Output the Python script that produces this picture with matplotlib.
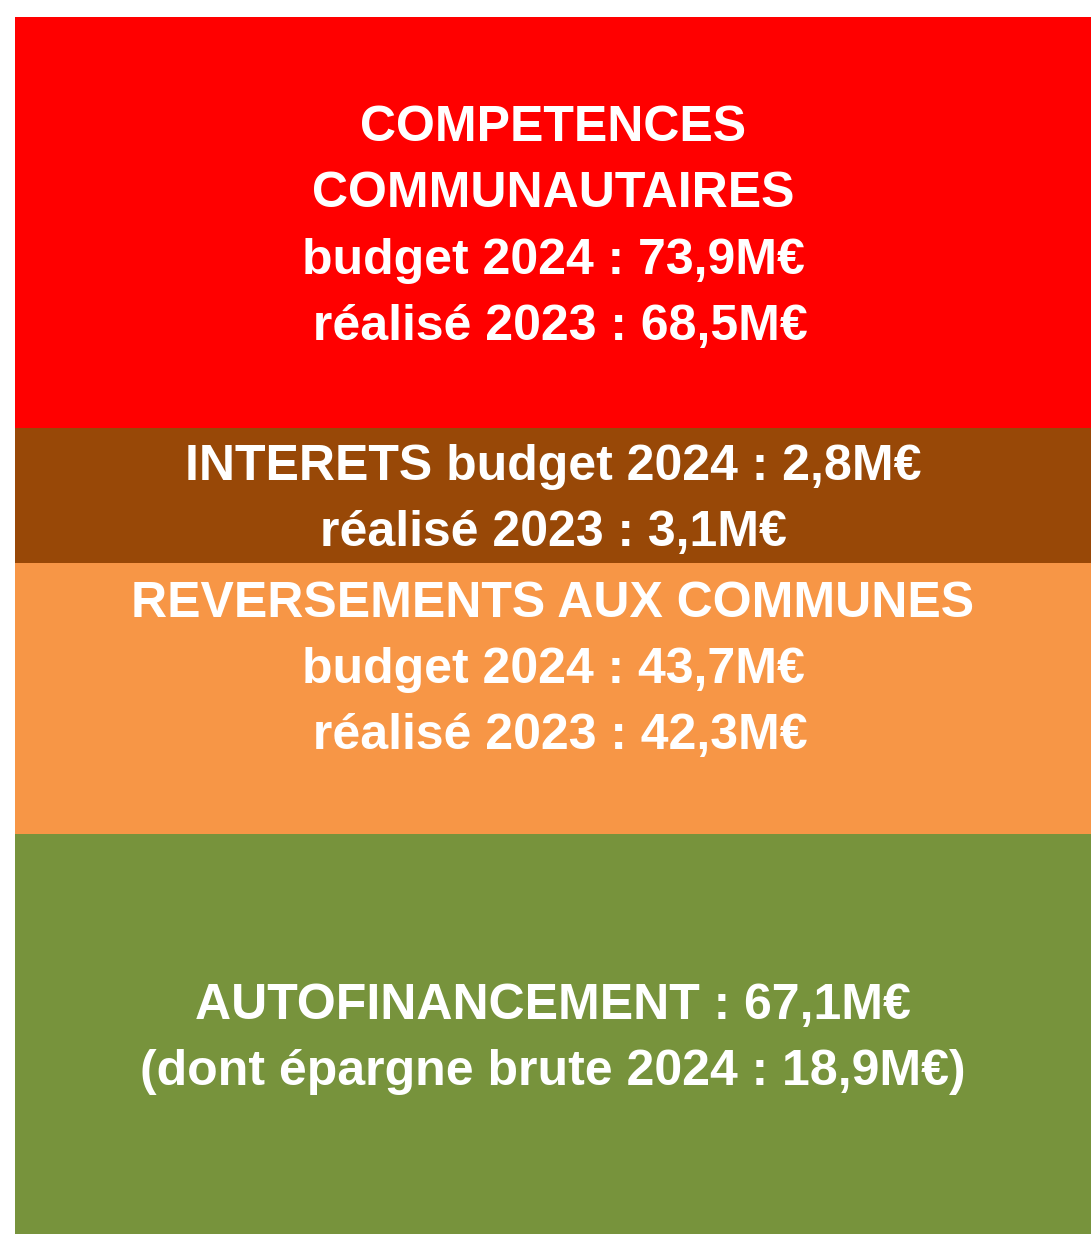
import matplotlib.pyplot as plt

# segments from bottom to top (heights, red = 73.9)
labels = [
    "AUTOFINANCEMENT : 67,1M€\n(dont épargne brute 2024 : 18,9M€)",
    "REVERSEMENTS AUX COMMUNES\nbudget 2024 : 43,7M€\n réalisé 2023 : 42,3M€\n",
    "INTERETS budget 2024 : 2,8M€\nréalisé 2023 : 3,1M€",
    "COMPETENCES\nCOMMUNAUTAIRES\nbudget 2024 : 73,9M€\n réalisé 2023 : 68,5M€",
]
heights = [72.0, 48.7, 24.3, 73.9]
colors = ["#77933C", "#F79646", "#984807", "#FF0000"]

plt.rcParams['font.family'] = ['Liberation Sans', 'DejaVu Sans']

fig = plt.figure(figsize=(10.91, 12.34), dpi=100)
ax = fig.add_axes([15 / 1091, 0, 1 - 15 / 1091, 1217 / 1234])

bottom = 0
for h, c, lab in zip(heights, colors, labels):
    ax.bar(0, h, width=1, bottom=bottom, color=c, linewidth=0)
    ax.annotate(lab, (0, bottom + h / 2), xytext=(0, -5), textcoords="offset pixels",
                ha="center", va="center", color="white",
                fontsize=36, fontweight="bold", linespacing=1.56)
    bottom += h

ax.set_xlim(-0.5, 0.5)
ax.set_ylim(0, bottom)
ax.axis("off")

fig.savefig("out.png", dpi=100)
